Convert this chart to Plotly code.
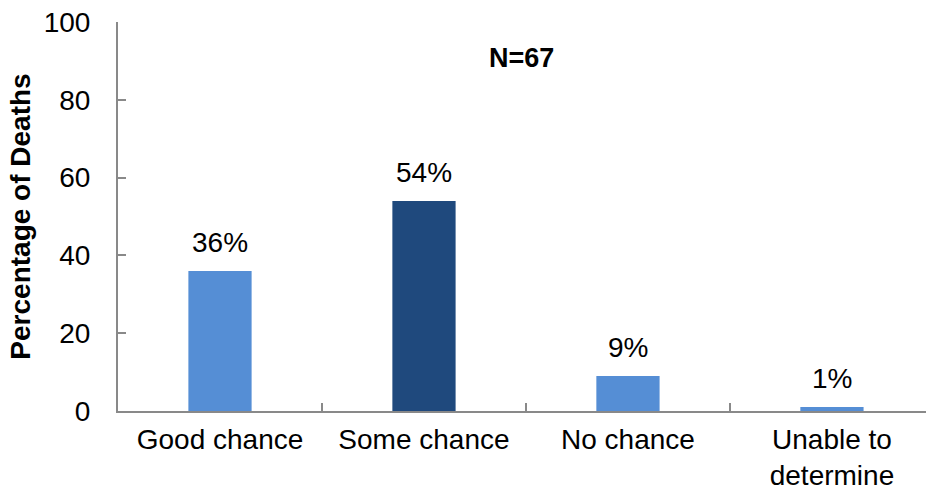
import plotly.graph_objects as go

categories = ["Good chance", "Some chance", "No chance", "Unable to<br>determine"]
values = [36, 54, 9, 1]
value_labels = ["36%", "54%", "9%", "1%"]
bar_colors = ["#558ED5", "#1F497D", "#558ED5", "#558ED5"]
y_ticks = [0, 20, 40, 60, 80, 100]
n_label = "N=67"

FONT = "Liberation Sans, Arial, sans-serif"
AXIS_COLOR = "#898989"
FS = 28

fig = go.Figure()
fig.add_trace(go.Bar(
    x=categories,
    y=values,
    marker=dict(color=bar_colors, line=dict(width=0)),
    width=0.31,
    hoverinfo="skip",
))

for cat, v, lab in zip(categories, values, value_labels):
    fig.add_annotation(x=cat, y=v, text=lab, showarrow=False, xref="x", yref="y",
                       yanchor="bottom", yshift=11,
                       font=dict(family=FONT, size=FS, color="#000000"))

fig.add_annotation(x=1.48, y=90.7, text="<b>" + n_label + "</b>", showarrow=False,
                   xref="x", yref="y", font=dict(family=FONT, size=FS - 1, color="#000000"))

fig.update_layout(
    width=926, height=487,
    margin=dict(l=118, r=0, t=22, b=76),
    plot_bgcolor="white", paper_bgcolor="white",
    showlegend=False,
    font=dict(family=FONT, size=FS, color="#000000"),
    xaxis=dict(
        type="category",
        range=[-0.5, 3.461],
        tickson="boundaries",
        ticks="inside", ticklen=8, tickwidth=2, tickcolor=AXIS_COLOR,
        showline=True, linecolor=AXIS_COLOR, linewidth=2,
        showgrid=False, zeroline=False,
        tickfont=dict(family=FONT, size=FS, color="#000000"),
        ticklabelstandoff=2,
        automargin=False,
    ),
    yaxis=dict(
        range=[0, 100],
        tickmode="array",
        tickvals=y_ticks,
        ticks="inside", ticklen=8, tickwidth=2, tickcolor=AXIS_COLOR,
        showline=True, linecolor=AXIS_COLOR, linewidth=2,
        showgrid=False, zeroline=False,
        tickfont=dict(family=FONT, size=FS, color="#000000"),
        ticklabelstandoff=20,
        title=dict(text="<b>Percentage of Deaths</b>",
                   font=dict(family=FONT, size=FS, color="#000000"),
                   standoff=5),
        automargin=False,
    ),
)

fig.write_html("out.html",
               config={"displayModeBar": False},
               post_script="document.body.style.margin='0';document.body.style.overflow='hidden';")
